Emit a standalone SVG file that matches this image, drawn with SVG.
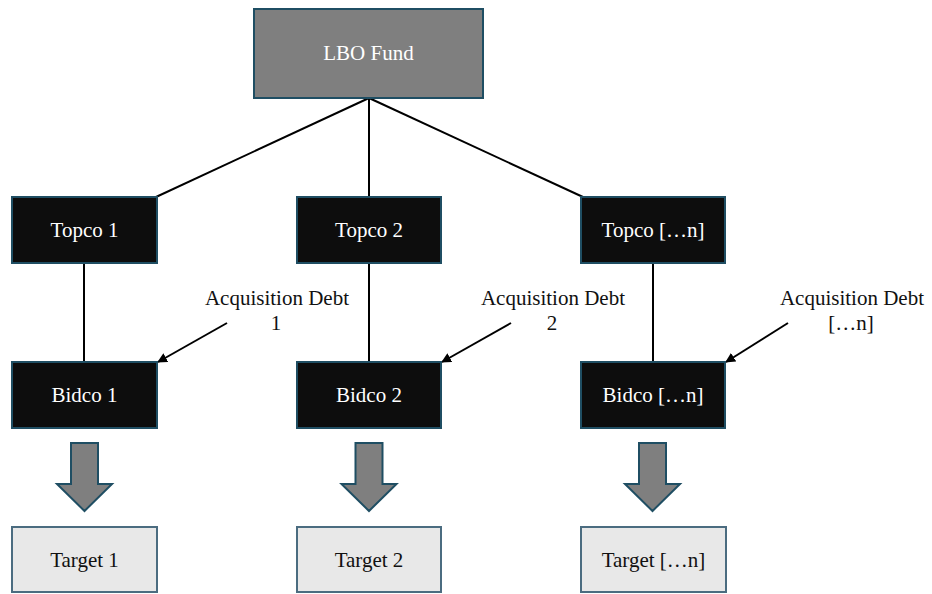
<svg xmlns="http://www.w3.org/2000/svg" width="932" height="594" viewBox="0 0 932 594">
<style>
text{font-family:"Liberation Serif","Times New Roman",serif;font-size:21px;text-anchor:middle}
.fund{fill:#7f7f7f;stroke:#1f4e63;stroke-width:2}
.dark{fill:#0d0d0d;stroke:#1f4e63;stroke-width:2}
.tgt{fill:#e8e8e8;stroke:#4b6c80;stroke-width:2}
.w{fill:#ffffff}
.b{fill:#111111}
.ln{stroke:#000;stroke-width:2;fill:none}
.bar{fill:#7f7f7f;stroke:#1f4e63;stroke-width:2}
</style>
<defs>
<marker id="ah" viewBox="0 0 10 10" refX="9" refY="5" markerWidth="5" markerHeight="5" orient="auto"><path d="M0,0 L10,5 L0,10 z" fill="#000"/></marker>
<path id="bigarrow" d="M-13.5,0 H13.5 V41 H27.5 L0,68 L-27.5,41 H-13.5 Z"/>
</defs>
<g id="connectors">
<line class="ln" x1="369" y1="98" x2="156" y2="197"/>
<line class="ln" x1="369" y1="98" x2="369" y2="197"/>
<line class="ln" x1="369" y1="98" x2="583" y2="197"/>
<line class="ln" x1="84" y1="263" x2="84" y2="362"/>
<line class="ln" x1="369" y1="263" x2="369" y2="362"/>
<line class="ln" x1="653" y1="263" x2="653" y2="362"/>
<line class="ln" x1="227" y1="323" x2="158" y2="362" marker-end="url(#ah)"/>
<line class="ln" x1="511" y1="323" x2="442" y2="362" marker-end="url(#ah)"/>
<line class="ln" x1="788" y1="323" x2="726" y2="362" marker-end="url(#ah)"/>
</g>
<g id="lbo-fund"><rect class="fund" x="254" y="9" width="229" height="89"/><text class="w" x="368.5" y="60">LBO Fund</text></g>
<g id="topco-1"><rect class="dark" x="12" y="197" width="145" height="66"/><text class="w" x="84.5" y="237">Topco 1</text></g>
<g id="topco-2"><rect class="dark" x="297" y="197" width="144" height="66"/><text class="w" x="369" y="237">Topco 2</text></g>
<g id="topco-n"><rect class="dark" x="581" y="197" width="144" height="66"/><text class="w" x="653" y="237">Topco […n]</text></g>
<g id="bidco-1"><rect class="dark" x="12" y="362" width="145" height="66"/><text class="w" x="84.5" y="402">Bidco 1</text></g>
<g id="bidco-2"><rect class="dark" x="297" y="362" width="144" height="66"/><text class="w" x="369" y="402">Bidco 2</text></g>
<g id="bidco-n"><rect class="dark" x="581" y="362" width="144" height="66"/><text class="w" x="653" y="402">Bidco […n]</text></g>
<g id="debt-1"><text class="b" x="277" y="305">Acquisition Debt</text><text class="b" x="276" y="330">1</text></g>
<g id="debt-2"><text class="b" x="553" y="305">Acquisition Debt</text><text class="b" x="552" y="330">2</text></g>
<g id="debt-n"><text class="b" x="852" y="305">Acquisition Debt</text><text class="b" x="851" y="330">[…n]</text></g>
<g id="arrow-1"><use href="#bigarrow" class="bar" transform="translate(84.5,443)"/></g>
<g id="arrow-2"><use href="#bigarrow" class="bar" transform="translate(369,443)"/></g>
<g id="arrow-n"><use href="#bigarrow" class="bar" transform="translate(652.5,443)"/></g>
<g id="target-1"><rect class="tgt" x="12" y="527" width="145" height="65"/><text class="b" x="84.5" y="567">Target 1</text></g>
<g id="target-2"><rect class="tgt" x="297" y="527" width="144" height="65"/><text class="b" x="369" y="567">Target 2</text></g>
<g id="target-n"><rect class="tgt" x="581" y="527" width="145" height="65"/><text class="b" x="653.5" y="567">Target […n]</text></g>
</svg>
